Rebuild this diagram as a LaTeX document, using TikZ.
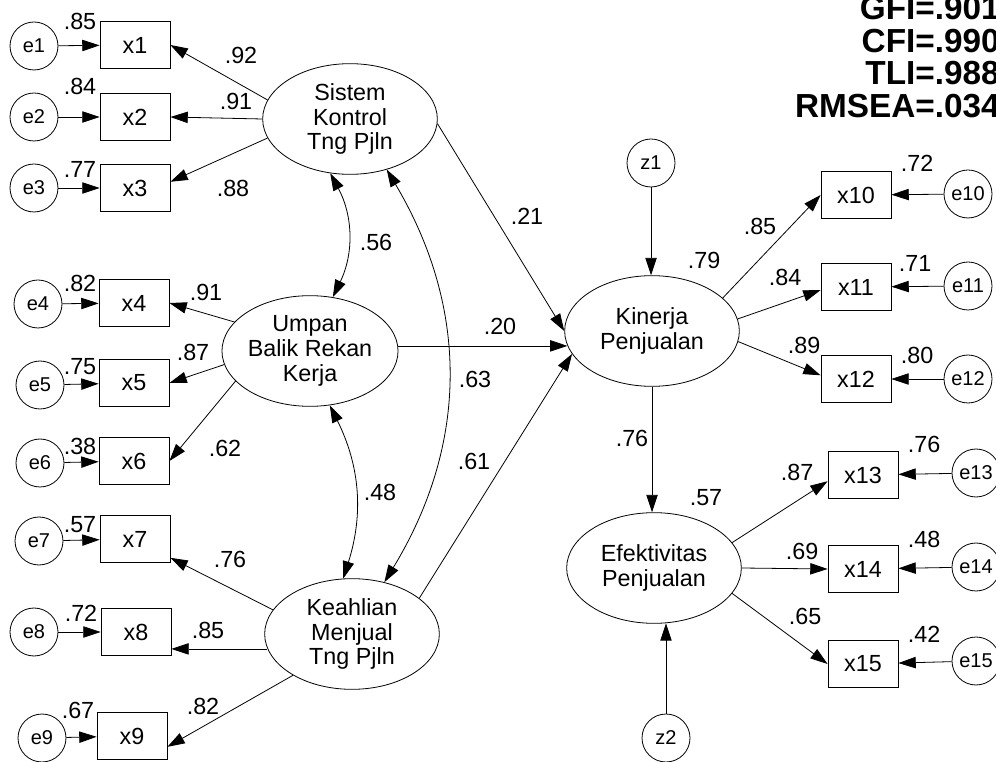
\documentclass[tikz,border=0pt]{standalone}
\usepackage{fontspec}
\setmainfont{Liberation Sans}
\usetikzlibrary{arrows.meta,calc,shapes.geometric}

\begin{document}
\begin{tikzpicture}[x=0.75pt,y=-0.75pt,
  every node/.style={font=\fontsize{17.5}{21}\selectfont},
  obs/.style={draw, line width=0.6pt, minimum width=52.5pt, minimum height=35.25pt, inner sep=0pt},
  err/.style={draw, circle, line width=0.6pt, minimum size=36pt, inner sep=0pt, font=\fontsize{15}{18}\selectfont},
  lat/.style={draw, ellipse, line width=0.6pt, minimum width=131pt, minimum height=83pt, inner sep=0pt, align=center, font=\fontsize{17.5}{18.5}\selectfont},
  tip/.tip={Triangle[length=13pt,width=8.5pt]},
  reg/.style={line width=0.6pt, -tip},
  cov/.style={line width=0.6pt, tip-tip},
  lbl/.style={inner sep=0pt},
  fitidx/.style={anchor=base east, inner sep=0pt, font=\fontsize{25}{30}\selectfont\bfseries}
]
\useasboundingbox (0,0) rectangle (996,762);

% fit indices
\node[fitidx] (g1) at (1000,20) {GFI=.901};
\node[fitidx] (g2) at (1000,53) {CFI=.990};
\node[fitidx] (g3) at (1000,85) {TLI=.988};
\node[fitidx] (g4) at (1000,118) {RMSEA=.034};

% latent variables
\node[lat] (sk) at (350,119) {Sistem\\Kontrol\\Tng Pjln};
\node[lat] (ub) at (310,351) {Umpan\\Balik Rekan\\Kerja};
\node[lat] (kj) at (352,634) {Keahlian\\Menjual\\Tng Pjln};
\node[lat] (kp) at (652,331) {Kinerja\\Penjualan};
\node[lat] (ef) at (654,568) {Efektivitas\\Penjualan};

% disturbances
\node[err] (z1) at (651,163) {z1};
\node[err] (z2) at (666,738) {z2};

% indicators, left side
\node[obs] (x1) at (135,45) {x1};
\node[obs] (x2) at (135,117) {x2};
\node[obs] (x3) at (135,188) {x3};
\node[obs] (x4) at (134,303) {x4};
\node[obs] (x5) at (134,383) {x5};
\node[obs] (x6) at (134,461) {x6};
\node[obs] (x7) at (135,539) {x7};
\node[obs] (x8) at (136,632) {x8};
\node[obs] (x9) at (132,736) {x9};

\node[err] (e1) at (34,46) {e1};
\node[err] (e2) at (34,117) {e2};
\node[err] (e3) at (34,188) {e3};
\node[err] (e4) at (38,304) {e4};
\node[err] (e5) at (40,385) {e5};
\node[err] (e6) at (40,463) {e6};
\node[err] (e7) at (39,541) {e7};
\node[err] (e8) at (34,632) {e8};
\node[err] (e9) at (42,738) {e9};

% indicators, right side
\node[obs] (x10) at (856,195) {x10};
\node[obs] (x11) at (856,287) {x11};
\node[obs] (x12) at (856,379) {x12};
\node[obs] (x13) at (863,475) {x13};
\node[obs] (x14) at (863,569) {x14};
\node[obs] (x15) at (863,664) {x15};

\node[err] (e10) at (968,194) {e10};
\node[err] (e11) at (968,286) {e11};
\node[err] (e12) at (968,379) {e12};
\node[err] (e13) at (976,473) {e13};
\node[err] (e14) at (976,567) {e14};
\node[err] (e15) at (976,661) {e15};

% error terms to indicators
\foreach \i in {1,...,15} \draw[reg] (e\i) -- (x\i);

% loadings
\draw[reg] (sk.167) -- (x1.east);
\draw[reg] (sk.west) -- (x2.east);
\draw[reg] (sk.193) -- (x3.10);
\draw[reg] (ub.159) -- (x4.east);
\draw[reg] (ub.189) -- (x5.east);
\draw[reg] (ub.202.5) -- (x6.east);
\draw[reg] (kj.163) -- (x7.-28.5);
\draw[reg] (kj.190) -- (kj.190 -| x8.east);
\draw[reg] (kj.215.7) -- (x9.-17);
\draw[reg] (kp.25) -- (x10.west);
\draw[reg] (kp.8) -- (x11.185);
\draw[reg] (kp.-7) -- (x12.174);
\draw[reg] (ef.18) -- (x13.190);
\draw[reg] (ef.0) -- (x14.west);
\draw[reg] (ef.-18.7) -- (x15.west);

% structural paths
\draw[reg] (sk.357) -- (kp.180);
\draw[reg] (ub.east |- kp.190) -- (kp.190);
\draw[reg] (kj.28) -- (kp.196);
\draw[reg] (z1.south) -- (z1.south |- kp.north);
\draw[reg] (kp.south) -- (kp.south |- ef.north);
\draw[reg] (z2.north) -- (z2.north |- ef.-79);

% covariances
\draw[cov] (sk.250) to[bend left=27] (ub.67);
\draw[cov] (ub.290) to[bend left=22] (kj.99);
\draw[cov] (sk.306) to[bend left=31] (kj.58);

% estimates
\node[lbl] (r1) at (80,21) {.85};
\node[lbl] (r2) at (80,86) {.84};
\node[lbl] (r3) at (80,169) {.77};
\node[lbl] (r4) at (80,283) {.82};
\node[lbl] (r5) at (80,367) {.75};
\node[lbl] (r6) at (80,446) {.38};
\node[lbl] (r7) at (80,525) {.57};
\node[lbl] (r8) at (81,613) {.72};
\node[lbl] (r9) at (78,710) {.67};
\node[lbl] (l1) at (241,55) {.92};
\node[lbl] (l2) at (236,101) {.91};
\node[lbl] (l3) at (233,188) {.88};
\node[lbl] (l4) at (206,292) {.91};
\node[lbl] (l5) at (193,352) {.87};
\node[lbl] (l6) at (225,448) {.62};
\node[lbl] (l7) at (230,559) {.76};
\node[lbl] (l8) at (208,630) {.85};
\node[lbl] (l9) at (203,706) {.82};
\node[lbl] (c1) at (376,242) {.56};
\node[lbl] (c2) at (380,492) {.48};
\node[lbl] (c3) at (475,379) {.63};
\node[lbl] (p1) at (527,216) {.21};
\node[lbl] (p2) at (500,326) {.20};
\node[lbl] (p3) at (474,461) {.61};
\node[lbl] (p4) at (632,438) {.76};
\node[lbl] (s1) at (704,260) {.79};
\node[lbl] (s2) at (706,498) {.57};
\node[lbl] (l10) at (760,226) {.85};
\node[lbl] (l11) at (785,277) {.84};
\node[lbl] (l12) at (804,345) {.89};
\node[lbl] (l13) at (797,472) {.87};
\node[lbl] (l14) at (802,551) {.69};
\node[lbl] (l15) at (805,616) {.65};
\node[lbl] (r10) at (917,163) {.72};
\node[lbl] (r11) at (915,263) {.71};
\node[lbl] (r12) at (917,355) {.80};
\node[lbl] (r13) at (924,444) {.76};
\node[lbl] (r14) at (924,539) {.48};
\node[lbl] (r15) at (924,634) {.42};
\end{tikzpicture}
\end{document}
